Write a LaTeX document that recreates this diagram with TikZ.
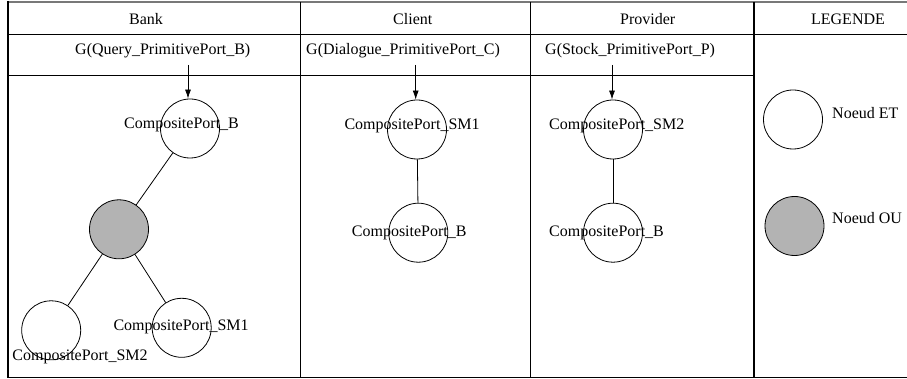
\documentclass[tikz,border=0pt]{standalone}
\usepackage{fontspec}
\setmainfont{Liberation Serif}
\usetikzlibrary{arrows.meta}
\definecolor{ornodefill}{RGB}{179,179,179}
\definecolor{topline}{RGB}{120,120,120}
\begin{document}
\begin{tikzpicture}[x=1pt,y=-1pt,
  txt/.style={inner sep=0pt, anchor=base west, font=\fontsize{16}{19}\selectfont},
  ctxt/.style={inner sep=0pt, anchor=base, font=\fontsize{16}{19}\selectfont},
  andnode/.style={circle, draw, line width=0.8pt, minimum size=59pt, inner sep=0pt},
  ornode/.style={andnode, fill=ornodefill},
  gridline/.style={line width=1pt},
  link/.style={line width=0.8pt},
  arr/.style={line width=0.8pt, -{Latex[length=9pt,width=6pt]}}
]
\useasboundingbox (0,0) rectangle (907,379);
% table frame
\draw[topline, line width=2pt] (8,2) -- (907,2);
\draw[line width=1.8pt] (8,1) -- (8,378);
\draw[gridline] (8,377.5) -- (907,377.5);
\draw[gridline] (8,35) -- (907,35);
\draw[gridline] (8,76) -- (754,76);
\draw[gridline] (300,2) -- (300,378);
\draw[line width=1.3pt] (530.5,2) -- (530.5,378);
\draw[line width=1.5pt] (754,2) -- (754,378);
% headers
\node[txt] (hBank) at (129,25) {Bank};
\node[txt] (hClient) at (393,25) {Client};
\node[txt] (hProv) at (620,25) {Provider};
\node[ctxt] (hLeg) at (848,25) {LEGENDE};
% goals
\node[txt] (gB) at (75,55) {G(Query\_PrimitivePort\_B)};
\node[txt] (gC) at (306,55) {G(Dialogue\_PrimitivePort\_C)};
\node[txt] (gP) at (545,55) {G(Stock\_PrimitivePort\_P)};
% arrow starts
\coordinate (aB) at (188,65);
\coordinate (aC) at (415.7,65);
\coordinate (aP) at (612,65);
% Bank tree
\node[andnode] (cB) at (190,128.5) {};
\node[ornode] (gOr) at (119,229.3) {};
\node[andnode] (bSM2) at (51.2,330.3) {};
\node[andnode] (bSM1) at (181.7,327.8) {};
\draw[link] (cB) -- (gOr);
\draw[link] (gOr) -- (bSM2);
\draw[link] (gOr) -- (bSM1);
\draw[arr] (aB) -- (aB |- cB.north);
\node[txt] (tcB) at (124,129) {CompositePort\_B};
\node[txt] (tbSM1) at (113.3,330) {CompositePort\_SM1};
\node[txt] (tbSM2) at (12.3,360) {CompositePort\_SM2};
% Client tree
\node[andnode] (c1) at (417,129.5) {};
\node[andnode] (c2) at (418.3,232.7) {};
\draw[link] (c1) -- (c2);
\draw[arr] (aC) -- (aC |- c1.north);
\node[txt] (tc1) at (344.3,129.3) {CompositePort\_SM1};
\node[txt] (tc2) at (351.7,236.7) {CompositePort\_B};
% Provider tree
\node[andnode] (p1) at (613,129.5) {};
\node[andnode] (p2) at (613,232.7) {};
\draw[link] (p1) -- (p2);
\draw[arr] (aP) -- (aP |- p1.north);
\node[txt] (tp1) at (549,129.3) {CompositePort\_SM2};
\node[txt] (tp2) at (549,236.7) {CompositePort\_B};
% Legend
\node[andnode] (lET) at (793,119.5) {};
\node[ornode] (lOU) at (794.5,226) {};
\node[txt] (tET) at (832,119) {Noeud ET};
\node[txt] (tOU) at (832,224) {Noeud OU};
\end{tikzpicture}
\end{document}
